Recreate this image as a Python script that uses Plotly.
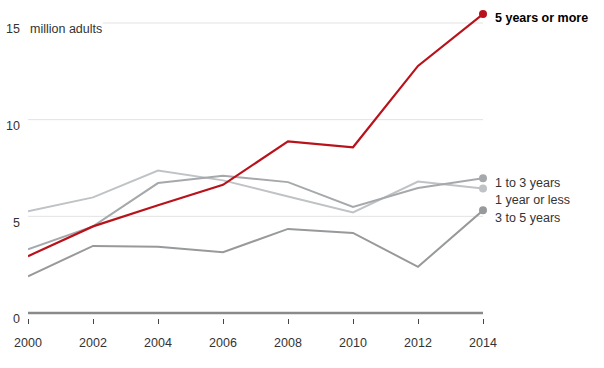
import plotly.graph_objects as go

years = [2000, 2002, 2004, 2006, 2008, 2010, 2012, 2014]
five_plus = [2.94, 4.48, 5.57, 6.63, 8.88, 8.57, 12.78, 15.46]
one_or_less = [5.26, 5.98, 7.37, 6.86, 6.03, 5.20, 6.80, 6.44]
one_to_three = [3.30, 4.48, 6.72, 7.10, 6.77, 5.48, 6.46, 6.97]
three_to_five = [1.90, 3.47, 3.42, 3.14, 4.35, 4.14, 2.39, 5.31]
series_names = ["1 year or less", "1 to 3 years", "3 to 5 years", "5 years or more"]
y_ticks = [0, 5, 10, 15]
x_ticks = [2000, 2002, 2004, 2006, 2008, 2010, 2012, 2014]

FONT = "Liberation Sans, Arial, sans-serif"
RED = "#b8121b"
styles = {
    "1 year or less": dict(color="#bfc3c5", yshift=-11.5),
    "1 to 3 years": dict(color="#a6a9ab", yshift=-5),
    "3 to 5 years": dict(color="#97999b", yshift=-8),
    "5 years or more": dict(color=RED, yshift=-4),
}
data = {
    "1 year or less": one_or_less,
    "1 to 3 years": one_to_three,
    "3 to 5 years": three_to_five,
    "5 years or more": five_plus,
}

fig = go.Figure()
for name in series_names:
    vals = data[name]
    st = styles[name]
    fig.add_trace(go.Scatter(
        x=years, y=vals, mode="lines", name=name,
        line=dict(color=st["color"], width=2.2 if name == "5 years or more" else 2),
        cliponaxis=False, hoverinfo="skip"))
    fig.add_trace(go.Scatter(
        x=[years[-1]], y=[vals[-1]], mode="markers",
        marker=dict(color=st["color"], size=8), cliponaxis=False, hoverinfo="skip"))
    bold = name == "5 years or more"
    fig.add_annotation(
        x=years[-1], y=vals[-1], xref="x", yref="y", text=f"<b>{name}</b>" if bold else name,
        showarrow=False, xanchor="left", yanchor="middle", xshift=10, yshift=st["yshift"],
        font=dict(family=FONT, size=12.5, color="#000" if bold else "#333"))

# gridlines
for v in y_ticks:
    if v == 0:
        fig.add_shape(type="line", xref="x", yref="y", x0=years[0], x1=years[-1], y0=0, y1=0,
                      line=dict(color="#8a8a8a", width=2.5), layer="below")
    else:
        x0 = 2002.3 if v == 15 else years[0]
        fig.add_shape(type="line", xref="x", yref="y", x0=x0, x1=years[-1], y0=v, y1=v,
                      line=dict(color="#e2e2e2", width=1), layer="below")
    fig.add_annotation(x=years[0], y=v, xref="x", yref="y", text=str(v), showarrow=False,
                       xanchor="right", yanchor="middle", xshift=-6, yshift=-6.5,
                       font=dict(family=FONT, size=12.5, color="#333"))
fig.add_annotation(x=years[0], y=15, xref="x", yref="y", text="million adults", showarrow=False,
                   xanchor="left", yanchor="middle", xshift=0, yshift=-6.5,
                   font=dict(family=FONT, size=12.5, color="#333"))

fig.update_layout(
    width=604, height=368, showlegend=False,
    margin=dict(l=28, r=121, t=3, b=50),
    plot_bgcolor="white", paper_bgcolor="white",
    xaxis=dict(range=[2000, 2014], tickvals=x_ticks, ticktext=[str(t) for t in x_ticks],
               showgrid=False, zeroline=False, showline=False,
               ticks="outside", ticklen=5, tickwidth=1, tickcolor="#444",
               tickfont=dict(family=FONT, size=12.5, color="#333"), ticklabelstandoff=8),
    yaxis=dict(range=[-0.259, 16.034], showgrid=False, zeroline=False, showline=False,
               showticklabels=False, ticks=""),
)
fig.write_html("out.html", config={"displayModeBar": False},
               post_script="document.body.style.margin='0px';")
